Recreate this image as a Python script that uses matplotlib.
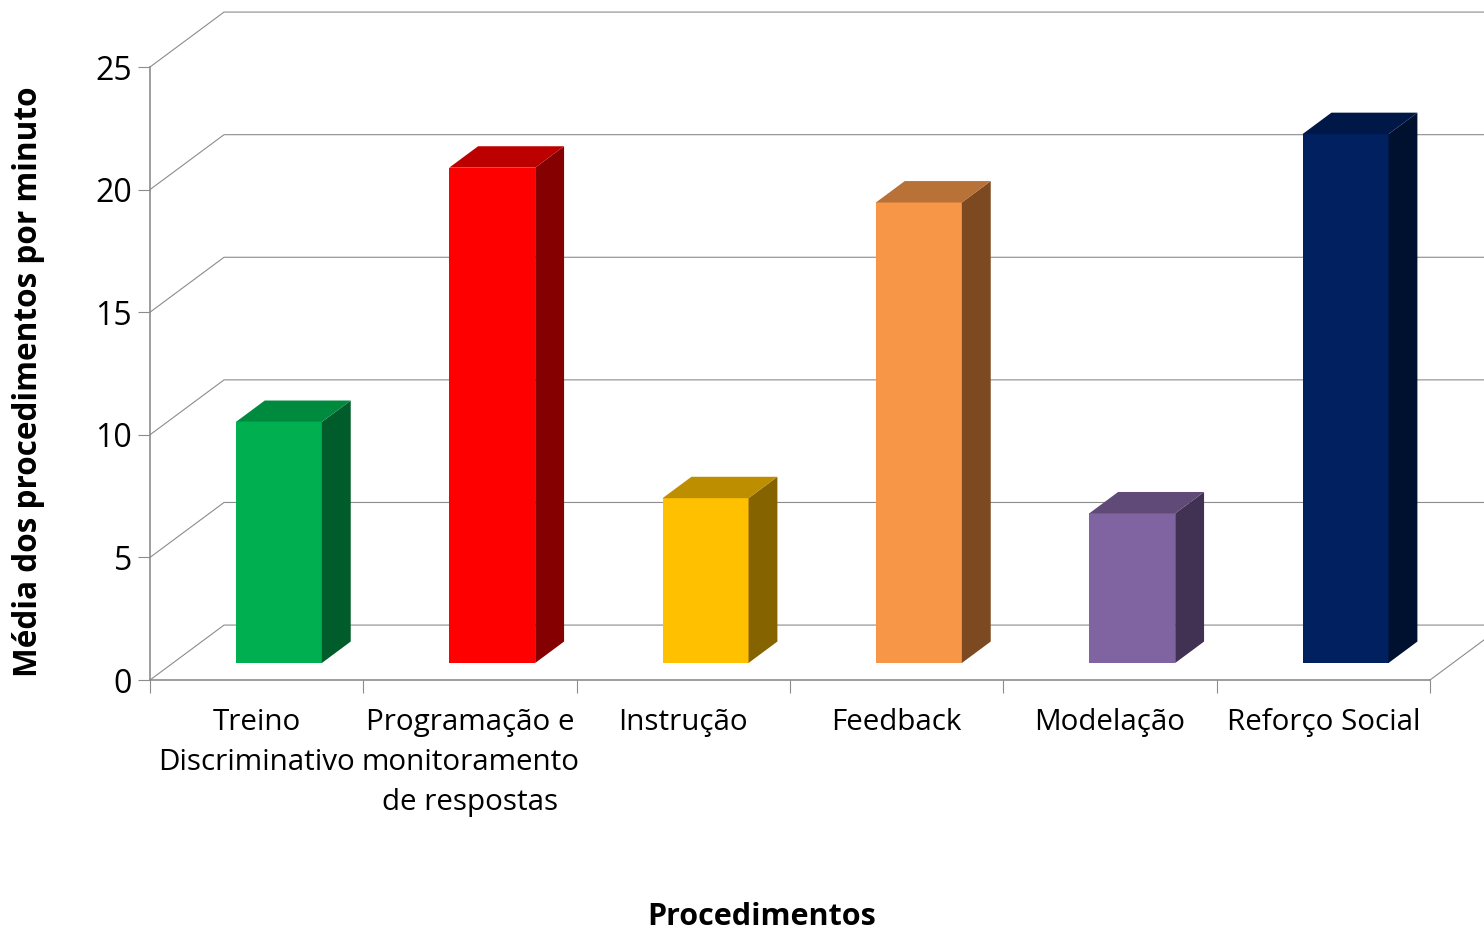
import numpy as np
import matplotlib
matplotlib.use("Agg")
from matplotlib import pyplot as plt

categories = ["Treino\nDiscriminativo", "Programação e\nmonitoramento\nde respostas", "Instrução",
              "Feedback", "Modelação", "Reforço Social"]
values = [9.83, 20.2, 6.72, 18.78, 6.1, 21.57]
y_ticks = [0, 5, 10, 15, 20, 25]

front_colors = ["#00B050", "#FF0000", "#FFC000", "#F79646", "#8064A2", "#002060"]
side_colors = ["#005C2B", "#850000", "#856400", "#7D4920", "#413254", "#001130"]
top_colors = ["#008A3E", "#BC0000", "#BC8E00", "#B87136", "#5F4A78", "#001847"]

# depth of the box, in data units
DEPTH_X = 0.347
DEPTH_Y = 2.24
BAR_WIDTH = 0.403
BAR_FRONT = 0.30
BAR_BACK = 0.69
GRID = "#8c8c8c"


def draw_walls(ax):
    for tick in y_ticks:
        ax.plot([0, DEPTH_X, 6 + DEPTH_X], [tick, tick + DEPTH_Y, tick + DEPTH_Y],
                color=GRID, linewidth=0.8, clip_on=False, zorder=1)
    ax.plot([6, 6 + DEPTH_X], [0, DEPTH_Y], color=GRID, linewidth=0.8, clip_on=False, zorder=1)


def draw_bar(ax, pos, value, front, side, top):
    left = pos + 0.5 - BAR_WIDTH / 2 + BAR_FRONT * DEPTH_X
    right = left + BAR_WIDTH
    base = 0.31 * DEPTH_Y
    peak = base + value
    off_x = (BAR_BACK - BAR_FRONT) * DEPTH_X
    off_y = (BAR_BACK - BAR_FRONT) * DEPTH_Y

    ax.fill([left, right, right, left], [base, base, peak, peak],
            color=front, linewidth=0, clip_on=False, zorder=3)
    ax.fill([right, right + off_x, right + off_x, right], [base, base + off_y, peak + off_y, peak],
            color=side, linewidth=0, clip_on=False, zorder=3)
    ax.fill([left, right, right + off_x, left + off_x], [peak, peak, peak + off_y, peak + off_y],
            color=top, linewidth=0, clip_on=False, zorder=3)


plt.rcParams["font.family"] = ["Open Sans", "DejaVu Sans"]

fig = plt.figure(figsize=(14.84, 9.30), dpi=100)
ax = fig.add_axes([150 / 1484, 250 / 930, 1280 / 1484, 613 / 930])
ax.set_xlim(0, 6)
ax.set_ylim(0, 25)
ax.patch.set_visible(False)

draw_walls(ax)
for i, value in enumerate(values):
    draw_bar(ax, i, value, front_colors[i], side_colors[i], top_colors[i])

for name in ["top", "right"]:
    ax.spines[name].set_visible(False)
for name in ["left", "bottom"]:
    ax.spines[name].set_color(GRID)
    ax.spines[name].set_linewidth(1.2)

ax.set_yticks(y_ticks)
ax.tick_params(axis="y", labelsize=23, length=9, width=0.8, color=GRID, pad=4, labelcolor="black")

ax.set_xticks(np.arange(7))
ax.set_xticklabels([])
ax.tick_params(axis="x", which="major", length=9, width=0.8, color=GRID)
ax.set_xticks(np.arange(6) + 0.5, categories, minor=True, ma="center", linespacing=1.5)
ax.tick_params(axis="x", which="minor", length=0, labelsize=21.3, pad=20.5, labelcolor="black")

ax.set_ylabel("Média dos procedimentos por minuto", fontsize=22.7, fontweight="bold", va="center")
ax.yaxis.set_label_coords((29 - 150) / 1280, (680 - 382) / 613)
ax.set_xlabel("Procedimentos", fontsize=22, fontweight="bold", va="center")
ax.xaxis.set_label_coords((762 - 150) / 1280, -(917 - 680) / 613)

plt.savefig("out.png", dpi=100)
plt.close()
